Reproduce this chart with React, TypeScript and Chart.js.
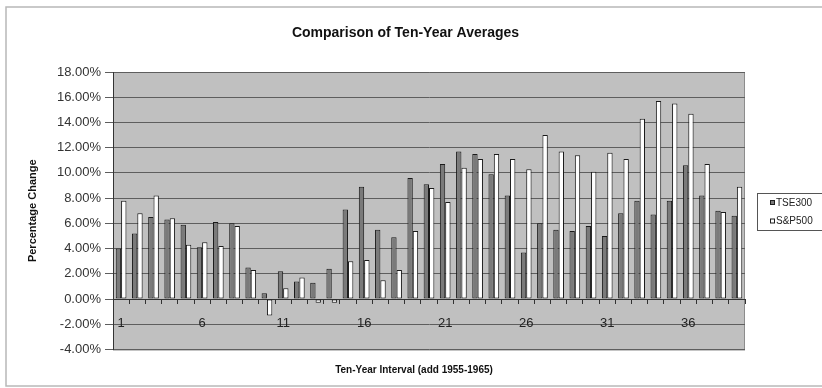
import React, { useEffect, useRef } from "react";
import { Chart, registerables } from "chart.js";

Chart.register(...registerables);

// Ten-year interval index (add 1955-1965)
const categories = [
  "1", "2", "3", "4", "5", "6", "7", "8", "9", "10",
  "11", "12", "13", "14", "15", "16", "17", "18", "19", "20",
  "21", "22", "23", "24", "25", "26", "27", "28", "29", "30",
  "31", "32", "33", "34", "35", "36", "37", "38", "39",
];

// Average annual percentage change over each ten-year window
const tse300 = [
  4.0, 5.2, 6.5, 6.3, 5.9, 4.1, 6.1, 6.0, 2.5, 0.45,
  2.2, 1.4, 1.3, 2.4, 7.1, 8.9, 5.5, 4.9, 9.6, 9.1,
  10.7, 11.7, 11.5, 9.9, 8.2, 3.7, 6.0, 5.5, 5.4, 5.8,
  5.0, 6.8, 7.8, 6.7, 7.8, 10.6, 8.2, 7.0, 6.6,
];
const sp500 = [
  7.8, 6.8, 8.2, 6.4, 4.3, 4.5, 4.2, 5.8, 2.3, -1.3,
  0.85, 1.7, -0.3, -0.3, 3.0, 3.1, 1.5, 2.3, 5.4, 8.8,
  7.7, 10.4, 11.1, 11.5, 11.1, 10.3, 13.0, 11.7, 11.4, 10.1,
  11.6, 11.1, 14.3, 15.7, 15.5, 14.7, 10.7, 6.9, 8.9,
];

const seriesNames = ["TSE300", "S&P500"];
const titleText = "Comparison of Ten-Year Averages";
const yTitle = "Percentage Change";
const xTitle = "Ten-Year Interval (add 1955-1965)";

const FONT = "'Liberation Sans', Arial, sans-serif";

// Plot background, outer frame, category-axis caption and boxed legend
const framePlugin = {
  id: "frame",
  beforeDraw(chart: any) {
    const { ctx, chartArea } = chart;
    ctx.save();
    ctx.fillStyle = "#ffffff";
    ctx.fillRect(0, 0, chart.width, chart.height);
    ctx.strokeStyle = "#b8b8b8";
    ctx.lineWidth = 1.5;
    ctx.strokeRect(6, 7, chart.width + 20, 379);
    ctx.fillStyle = "#c0c0c0";
    ctx.fillRect(chartArea.left, chartArea.top, chartArea.right - chartArea.left, chartArea.bottom - chartArea.top);
    ctx.strokeStyle = "#8c8c8c";
    ctx.lineWidth = 1;
    ctx.strokeRect(chartArea.left + 0.5, chartArea.top + 0.5, chartArea.right - chartArea.left - 1, chartArea.bottom - chartArea.top);
    ctx.restore();
  },
  afterDraw(chart: any) {
    const { ctx } = chart;
    ctx.save();
    ctx.fillStyle = "#111111";
    ctx.font = `bold 10px ${FONT}`;
    ctx.textAlign = "center";
    ctx.textBaseline = "middle";
    ctx.fillText(xTitle, 414, 370);

    const boxX = 757.5;
    const boxY = 193.5;
    ctx.fillStyle = "#ffffff";
    ctx.strokeStyle = "#555555";
    ctx.lineWidth = 1;
    ctx.fillRect(boxX, boxY, 80, 37);
    ctx.strokeRect(boxX, boxY, 80, 37);
    ctx.font = `10px ${FONT}`;
    ctx.textAlign = "left";
    chart.data.datasets.forEach((ds: any, i: number) => {
      const cy = 203 + i * 18.5;
      ctx.fillStyle = ds.backgroundColor;
      ctx.fillRect(770.5, cy - 2.5, 4, 4);
      ctx.strokeStyle = "#1e1e1e";
      ctx.strokeRect(770.5, cy - 2.5, 4, 4);
      ctx.fillStyle = "#222222";
      ctx.fillText(ds.label, 776, cy);
    });
    ctx.restore();
  },
};

export default function App() {
  const canvasRef = useRef<HTMLCanvasElement | null>(null);

  useEffect(() => {
    if (!canvasRef.current) return;
    Chart.defaults.font.family = FONT;
    const chart = new Chart(canvasRef.current, {
      type: "bar",
      data: {
        labels: categories,
        datasets: [
          {
            label: seriesNames[0],
            data: tse300,
            backgroundColor: "#7a7a7a",
            borderColor: "#1a1a1a",
            borderWidth: 1,
            borderSkipped: false,
            barPercentage: 1,
            categoryPercentage: 0.66,
          },
          {
            label: seriesNames[1],
            data: sp500,
            backgroundColor: "#ffffff",
            borderColor: "#1a1a1a",
            borderWidth: 1,
            borderSkipped: false,
            barPercentage: 1,
            categoryPercentage: 0.66,
          },
        ],
      },
      options: {
        animation: false,
        responsive: false,
        layout: { padding: { left: 0, right: 11, top: 0, bottom: 38.5 } },
        plugins: {
          legend: { display: false },
          tooltip: { enabled: false },
          title: {
            display: true,
            text: titleText,
            color: "#111111",
            font: { size: 14, weight: "bold", family: FONT },
            padding: { top: 24.6, bottom: 30.6 },
          },
        },
        scales: {
          x: {
            type: "category",
            position: { y: 0 } as any,
            offset: true,
            grid: {
              display: true,
              drawOnChartArea: false,
              drawTicks: true,
              tickLength: 4,
              offset: true,
              color: "#333333",
            },
            border: { display: true, color: "#333333", width: 1 },
            ticks: {
              autoSkip: false,
              maxRotation: 0,
              padding: 13,
              color: "#222222",
              font: { size: 13 },
              callback: (_v: any, i: number) => (i % 5 === 0 ? categories[i] : ""),
            },
          },
          y: {
            min: -4,
            max: 18,
            ticks: {
              stepSize: 2,
              padding: 4,
              color: "#333333",
              font: { size: 13 },
              callback: (v: any) => `${Number(v).toFixed(2)}%`,
            },
            grid: { color: "#5e5e5e", lineWidth: 1, tickLength: 8 },
            border: { display: true, color: "#333333", width: 1 },
            title: {
              display: true,
              text: yTitle,
              color: "#111111",
              font: { size: 11, weight: "bold" },
              padding: { top: 26, bottom: 0 },
            },
            afterFit: (scale: any) => {
              scale.width = 113;
            },
          },
          // empty right-hand band that holds the legend
          yr: {
            type: "linear",
            position: "right",
            display: true,
            min: -4,
            max: 18,
            grid: { display: false },
            border: { display: false },
            ticks: { display: false },
            afterFit: (scale: any) => {
              scale.width = 66;
            },
          },
        },
      },
      plugins: [framePlugin],
    });
    return () => chart.destroy();
  }, []);

  return (
    <div style={{ position: "absolute", left: 0, top: 0, width: 822, height: 388 }}>
      <canvas ref={canvasRef} width={822} height={388} />
    </div>
  );
}
